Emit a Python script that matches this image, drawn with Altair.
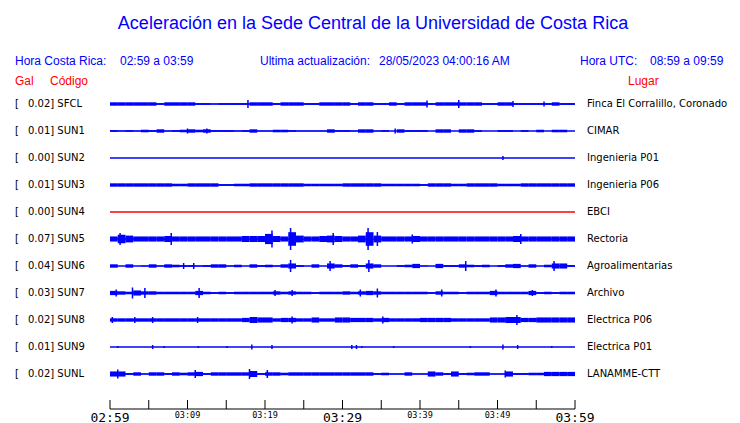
import altair as alt
import pandas as pd

# ---------------- data ----------------
CODES = ["SFCL", "SUN1", "SUN2", "SUN3", "SUN4", "SUN5", "SUN6", "SUN7", "SUN8", "SUN9", "SUNL"]
GAL = ["0.02", "0.01", "0.00", "0.01", "0.00", "0.07", "0.04", "0.03", "0.02", "0.01", "0.02"]
PLACES = ["Finca El Corralillo, Coronado", "CIMAR", "Ingenieria P01", "Ingenieria P06", "EBCI",
          "Rectoria", "Agroalimentarias", "Archivo", "Electrica P06", "Electrica P01", "LANAMME-CTT"]
TRACE_COLORS = ["#0000ff", "#0000ff", "#0000ff", "#0000ff", "#ff0000", "#0000ff",
                "#0000ff", "#0000ff", "#0000ff", "#0000ff", "#0000ff"]

# per-minute envelope half-amplitude, minutes 0..59 after 02:59
AMP_SFCL = [2, 2, 2, 2, 2, 2, 1, 2, 2, 2, 2, 1, 1, 0.5, 1, 1, 1, 1, 2, 2,
            2, 1, 2, 2, 2, 1, 1, 2, 2, 2, 2, 1, 2, 2, 1, 1, 2, 1, 2, 2,
            2, 1, 2, 2, 2, 2, 2, 2, 1, 1, 2, 2, 1, 1, 1, 1, 1, 2, 1, 1]
AMP_SUN1 = [1, 0.5, 1, 0.5, 1.5, 1, 2, 0.5, 1, 1.5, 2, 1.5, 2, 1, 1, 1, 0.5, 1, 2, 0.5,
            0.5, 1.5, 1.5, 1, 0.5, 0.5, 0.5, 0.5, 2, 1, 1, 0.5, 2, 2, 0.5, 1, 0, 2, 1, 1,
            1, 0, 2, 2, 0, 2, 2, 1, 0, 0, 1, 1, 0, 1, 0, 1.5, 0, 1.5, 1.5, 0]
AMP_SUN3 = [2, 2, 2, 2, 2, 2, 2, 2, 1.5, 1.5, 2, 2, 2, 2, 1, 1, 1.5, 1.5, 2, 2,
            2, 2, 2, 2, 2, 1.5, 1.5, 1.5, 1.5, 1.5, 2, 2, 2, 2, 2, 1.5, 1.5, 1.5, 1.5, 1.5,
            1, 2, 2, 2, 1.5, 1.5, 2, 2, 2, 2, 1.5, 1.5, 1.5, 2, 2, 2, 2, 2, 2, 2]
AMP_SUN5 = [3, 5, 4, 3, 3, 3, 3, 3.5, 3, 3, 3, 3, 3, 3, 3, 3, 3, 3.5, 3.5, 3.5,
            6, 3.5, 3, 8, 4, 3, 3, 3.5, 4, 3.5, 3, 3, 4, 8, 4, 3, 3, 3, 3, 3.5,
            3, 3, 3, 3, 3, 3, 3, 3, 3, 3, 3, 3, 3.5, 3, 3, 3, 3, 3, 3, 3]
AMP_SUN6 = [2, 0, 2, 0, 0.5, 2, 0.5, 2, 1.5, 1, 1, 0.5, 1, 2, 2, 0.5, 1.5, 0, 2, 1,
            1.5, 0.5, 2, 3, 1, 0, 2, 0, 3, 2, 1, 2, 1, 3, 2, 0, 0, 1, 1.5, 2.5,
            0.5, 0, 2.5, 1, 1, 2, 1.5, 1, 1.5, 0, 1, 2, 2.5, 0.5, 2, 0, 1.5, 3, 3, 1]
AMP_SUN7 = [2.5, 2, 1.5, 3, 2, 2, 1.5, 1.5, 1.5, 1.5, 1.5, 2.5, 1.5, 1, 1.5, 1, 1.5, 1.5, 1.5, 1.5,
            1.5, 2, 1.5, 2, 1.5, 1.5, 1, 1.5, 1.5, 1.5, 2, 1.5, 2, 2.5, 2, 1.5, 1.5, 1.5, 1.5, 1.5,
            1.5, 1, 2, 1.5, 1.5, 1, 1.5, 1.5, 1.5, 2.5, 1.5, 1.5, 1.5, 1.5, 2.5, 1, 1.5, 1, 1.5, 1.5]
AMP_SUN8 = [2, 2, 2, 2, 2, 2, 2, 2, 2, 2, 2, 2, 2, 2, 2, 2, 2, 2.5, 3.5, 3,
            3, 2, 2.5, 2.5, 2, 2, 3, 2, 2, 3, 3, 2.5, 2.5, 2.5, 2, 2.5, 2, 2, 2, 2,
            2.5, 2.5, 2.5, 2.5, 2, 2, 2, 2, 2, 3, 3, 3.5, 3.5, 2.5, 2.5, 3, 3, 3, 3, 3]
AMP_SUNL = [3, 3, 1, 2, 0.5, 2, 2, 1, 2, 1.5, 2, 2.5, 1, 2, 2, 2, 2, 2, 3.5, 1,
            2, 2, 1.5, 2, 2, 2, 2, 2, 2, 2, 2, 2, 2, 2, 1, 1.5, 0.5, 0.5, 2, 0.5,
            0.5, 3, 2, 1, 3, 1, 1.5, 2, 2, 0.5, 0.5, 3, 1, 1, 1.5, 1.5, 2.5, 2.5, 2.5, 2.5]

ENVELOPES = {"SFCL": AMP_SFCL, "SUN1": AMP_SUN1, "SUN3": AMP_SUN3, "SUN5": AMP_SUN5,
             "SUN6": AMP_SUN6, "SUN7": AMP_SUN7, "SUN8": AMP_SUN8, "SUNL": AMP_SUNL}

# isolated peaks: station, minute, half-amplitude
SPIKE_CODE = (["SFCL"] * 5 + ["SUN1"] * 3 + ["SUN2"] + ["SUN5"] * 9 + ["SUN6"] * 7 +
              ["SUN7"] * 11 + ["SUN8"] * 7 + ["SUN9"] * 15 + ["SUNL"] * 5)
SPIKE_MIN = [17.8, 40.9, 45.0, 52.0, 56.0,
             10.0, 12.5, 36.8,
             50.7,
             1.3, 7.9, 20.9, 23.3, 28.8, 33.3, 34.5, 39.0, 53.0,
             9.5, 10.8, 23.3, 28.4, 33.4, 45.9, 57.3,
             0.8, 2.9, 4.5, 11.5, 21.3, 23.5, 32.3, 34.5, 42.8, 49.8, 54.5,
             0.3, 3.2, 5.5, 11.3, 23.5, 35.2, 52.5,
             1.0, 5.5, 7.0, 11.4, 15.1, 18.3, 20.9, 31.2, 31.8, 32.5, 36.6, 46.5, 50.7, 52.6, 57.0,
             1.0, 11.0, 18.0, 20.3, 51.0]
SPIKE_AMP = [4, 3.5, 4, 3, 2.5,
             2.5, 2.5, 2.5,
             2,
             6, 6, 8.5, 11, 6, 11, 7, 4.5, 5,
             3, 3, 6, 5, 6, 5, 5,
             3.5, 5.5, 5, 5, 3, 3, 3.5, 4.5, 3.5, 3.5, 3,
             3, 3, 3, 3, 3.5, 3.5, 5,
             1, 2, 1, 1, 1, 2.5, 2, 2, 2, 1, 1, 1, 2.5, 2, 1,
             4.5, 4, 5, 4, 3.5]

TICK_MIN = [0, 5, 10, 15, 20, 25, 30, 35, 40, 45, 50, 55, 60]
BIG_LABEL_MIN = [0, 30, 60]
BIG_LABELS = ["02:59", "03:29", "03:59"]
SMALL_LABEL_MIN = [10, 20, 40, 50]
SMALL_LABELS = ["03:09", "03:19", "03:39", "03:49"]

# ---------------- tables ----------------
ROW = {c: i for i, c in enumerate(CODES)}
PX = 27.0          # pixels between traces
TOP = 96           # first trace offset in the view
ENV_K = 0.85       # drawing factor for envelope blocks

base_df = pd.DataFrame({"code": CODES, "row": list(range(len(CODES))), "t0": 0, "t1": 60})
env_rows = []
for code, amps in ENVELOPES.items():
    for m, a in enumerate(amps):
        if a > 0:
            r = ROW[code]
            env_rows.append({"code": code, "t0": m, "t1": m + 1,
                             "lo": r - ENV_K * a / PX, "hi": r + ENV_K * a / PX})
env_df = pd.DataFrame(env_rows)
spk_df = pd.DataFrame({"code": SPIKE_CODE, "t": SPIKE_MIN, "a": SPIKE_AMP})
spk_df["lo"] = spk_df["code"].map(ROW) - spk_df["a"] / PX
spk_df["hi"] = spk_df["code"].map(ROW) + spk_df["a"] / PX
lab_df = pd.DataFrame({"code": CODES, "row": list(range(len(CODES))),
                       "left": [g + "] " + c for g, c in zip(GAL, CODES)],
                       "br": "[", "place": PLACES})

AXIS_ROW = (401 - TOP) / PX      # axis line
TICK_TOP = (392 - TOP) / PX
tick_df = pd.DataFrame({"t": TICK_MIN, "y0": TICK_TOP, "y1": AXIS_ROW})
big_df = pd.DataFrame({"t": BIG_LABEL_MIN, "txt": BIG_LABELS, "y": (409.5 - TOP) / PX})
small_df = pd.DataFrame({"t": SMALL_LABEL_MIN, "txt": SMALL_LABELS, "y": (406.5 - TOP) / PX})
axis_df = pd.DataFrame({"t0": [0], "t1": [60], "y": [AXIS_ROW]})

W, H = 724, 415
XS = alt.Scale(domain=[0, 60], range=[102, 567])
YS = alt.Scale(domain=[-TOP / PX, (H - TOP) / PX], range=[0, H])
BLUE = "#0000ff"
SANS = "Liberation Sans"
DJ = "DejaVu Sans"

baselines = alt.Chart(base_df).mark_rule(strokeWidth=1.4).encode(
    x=alt.X("t0:Q", scale=XS, axis=None), x2="t1:Q",
    y=alt.Y("row:Q", scale=YS, axis=None),
    color=alt.Color("code:N", scale=alt.Scale(domain=CODES, range=TRACE_COLORS), legend=None))
env = alt.Chart(env_df).mark_rect(color=BLUE).encode(
    x=alt.X("t0:Q", scale=XS, axis=None), x2="t1:Q",
    y=alt.Y("lo:Q", scale=YS, axis=None), y2="hi:Q")
spikes = alt.Chart(spk_df).mark_rule(color=BLUE, strokeWidth=1.5).encode(
    x=alt.X("t:Q", scale=XS, axis=None),
    y=alt.Y("lo:Q", scale=YS, axis=None), y2="hi:Q")

br = alt.Chart(lab_df).mark_text(align="left", baseline="middle", font=DJ, fontSize=10, color="black").encode(
    x=alt.value(7), y=alt.Y("row:Q", scale=YS, axis=None), text="br:N")
left = alt.Chart(lab_df).mark_text(align="left", baseline="middle", font=DJ, fontSize=10, color="black").encode(
    x=alt.value(20), y=alt.Y("row:Q", scale=YS, axis=None), text="left:N")
right = alt.Chart(lab_df).mark_text(align="left", baseline="middle", font=DJ, fontSize=10, color="black").encode(
    x=alt.value(579), y=alt.Y("row:Q", scale=YS, axis=None), text="place:N")

axis_line = alt.Chart(axis_df).mark_rule(color="black", strokeWidth=1).encode(
    x=alt.X("t0:Q", scale=XS, axis=None), x2="t1:Q", y=alt.Y("y:Q", scale=YS, axis=None))
ticks = alt.Chart(tick_df).mark_rule(color="black", strokeWidth=1).encode(
    x=alt.X("t:Q", scale=XS, axis=None), y=alt.Y("y0:Q", scale=YS, axis=None), y2="y1:Q")
big = alt.Chart(big_df).mark_text(font="DejaVu Sans Mono", fontSize=13, baseline="middle", color="black").encode(
    x=alt.X("t:Q", scale=XS, axis=None), y=alt.Y("y:Q", scale=YS, axis=None), text="txt:N")
small = alt.Chart(small_df).mark_text(font="DejaVu Sans Mono", fontSize=8.5, baseline="middle", color="black").encode(
    x=alt.X("t:Q", scale=XS, axis=None), y=alt.Y("y:Q", scale=YS, axis=None), text="txt:N")


def label(txt, x, y, size=12, color=BLUE, align="left"):
    return alt.Chart(pd.DataFrame({"t": [txt]})).mark_text(
        align=align, baseline="middle", font=SANS, fontSize=size, color=color).encode(
        x=alt.value(x), y=alt.value(y), text="t:N")


headers = [
    label("Aceleración en la Sede Central de la Universidad de Costa Rica", 365, 15.5, size=18, align="center"),
    label("Hora Costa Rica:", 7, 53),
    label("02:59 a 03:59", 112, 53),
    label("Ultima actualización:", 252, 53),
    label("28/05/2023 04:00:16 AM", 371, 53),
    label("Hora UTC:", 572, 53),
    label("08:59 a 09:59", 642, 53),
    label("Gal", 7, 73, color="#ff0000"),
    label("Código", 42, 73, color="#ff0000"),
    label("Lugar", 620, 73, color="#ff0000"),
]

chart = alt.layer(baselines, env, spikes, br, left, right, axis_line, ticks, big, small, *headers).properties(
    width=W, height=H, autosize=alt.AutoSizeParams(type="none"), padding=0, background="white"
).configure_view(stroke=None)

chart.save("out.html", embed_options={"renderer": "svg", "actions": False})
